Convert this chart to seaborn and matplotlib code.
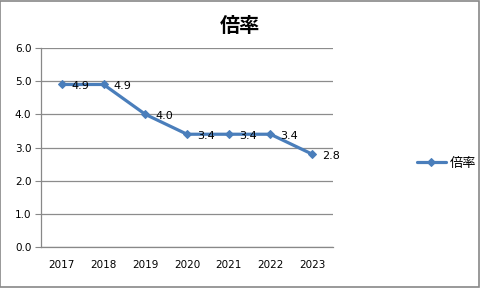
import matplotlib
matplotlib.use("Agg")
import matplotlib.pyplot as plt
import seaborn as sns
import pandas as pd
from matplotlib.patches import Rectangle

years = ["2017", "2018", "2019", "2020", "2021", "2022", "2023"]
ratio = [4.9, 4.9, 4.0, 3.4, 3.4, 3.4, 2.8]
series_name = "倍率"
title = "倍率"
yticks = [0.0, 1.0, 2.0, 3.0, 4.0, 5.0, 6.0]

sns.set_style("white")
plt.rcParams['font.family'] = ['DejaVu Sans', 'Noto Sans CJK JP']
plt.rcParams['text.color'] = 'black'
plt.rcParams['xtick.color'] = 'black'
plt.rcParams['ytick.color'] = 'black'

df = pd.DataFrame({"year": years, "value": ratio})

fig = plt.figure(figsize=(4.8, 2.88), dpi=100)
ax = fig.add_axes([41/480, 1-247/288, (333-41)/480, (247-48)/288])

color = "#4A7EBB"
sns.lineplot(data=df, x="year", y="value", ax=ax, color=color, linewidth=2.3,
             marker="D", markersize=4.3, markeredgecolor=color, label=series_name,
             sort=False)

ax.set_xlim(-0.5, len(years) - 0.5)
ax.set_ylim(0, 6)
ax.set_yticks(yticks)
ax.set_yticklabels([f"{v:.1f}" for v in yticks], fontsize=7.5)
ax.set_xticks(range(len(years)))
ax.set_xticklabels(years, fontsize=7.5)
ax.set_xticks([i - 0.5 for i in range(len(years) + 1)], minor=True)
ax.tick_params(axis='x', which='major', length=0, pad=9, labelcolor='black')
ax.tick_params(axis='x', which='minor', length=4, color='#888888', direction='out')
ax.tick_params(axis='y', length=4, color='#888888', direction='out', left=True, pad=3,
               labelcolor='black')
ax.set_xlabel("")
ax.set_ylabel("")
ax.grid(axis='y', color='#8c8c8c', linewidth=0.9)
ax.set_axisbelow(True)
for s in ["top", "right"]:
    ax.spines[s].set_visible(False)
for s in ["left", "bottom"]:
    ax.spines[s].set_color('#888888')
    ax.spines[s].set_linewidth(0.9)

for i, v in enumerate(ratio):
    ax.annotate(f"{v:.1f}", (i, v), xytext=(10, -2), textcoords="offset pixels",
                ha="left", va="center", fontsize=8, color="black")

fig.text(240/480, 1-25/288, title, ha="center", va="center", fontsize=14.5,
         fontweight="bold", color="black", family=['Noto Sans CJK JP', 'DejaVu Sans'])

leg = ax.legend(loc="center left", bbox_to_anchor=(405/480, 1-163/288),
                bbox_transform=fig.transFigure, frameon=False,
                handlelength=2.2, handletextpad=0.3,
                prop={'family': ['Noto Sans CJK JP'], 'size': 9.5})
for t in leg.get_texts():
    t.set_color("black")

fig.patches.append(Rectangle((0.001, 0.002), 0.996, 0.995, transform=fig.transFigure,
                             fill=False, edgecolor='#888888', linewidth=1.2))

fig.savefig("out.png", dpi=100)
